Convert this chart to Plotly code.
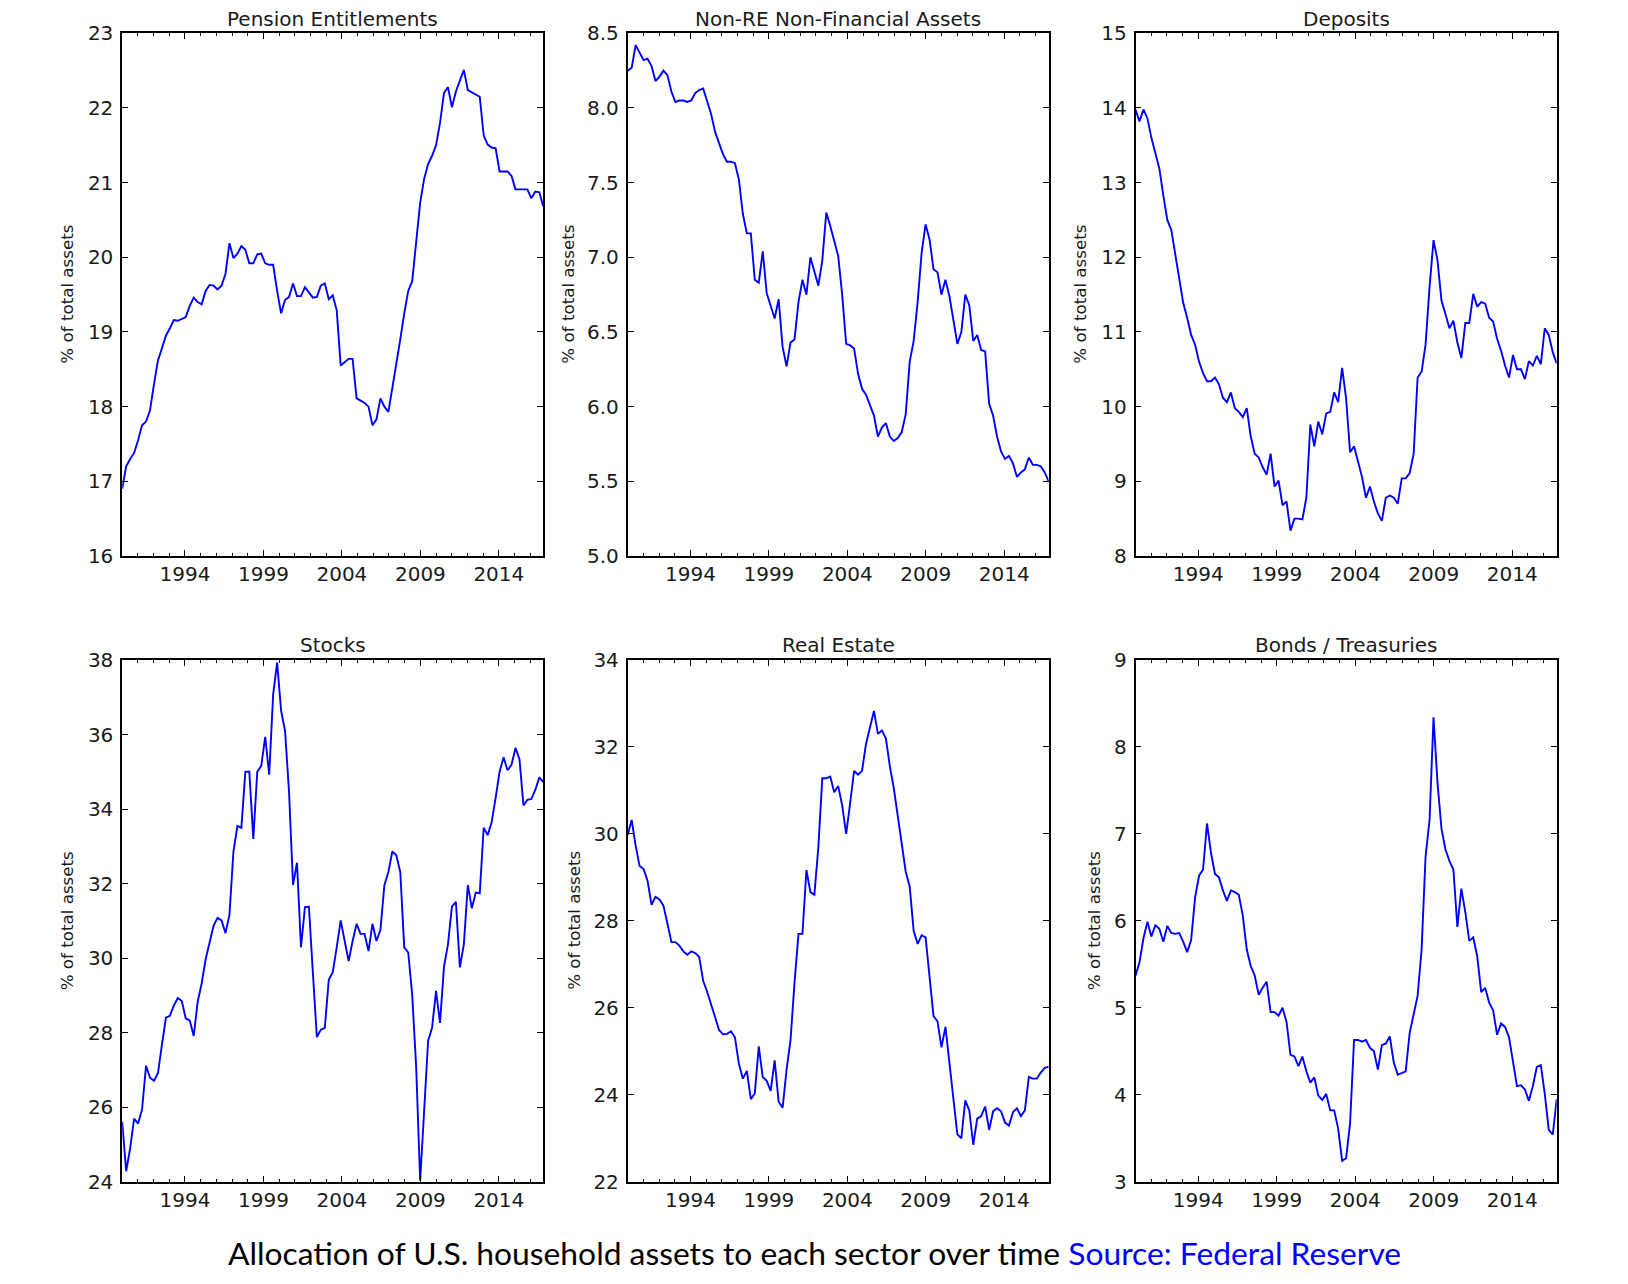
import pandas as pd
import plotly.graph_objects as go

# ---------------- data ----------------
start_date = "1990-01-01"
end_date = "2016-11-01"

titles = ["Pension Entitlements", "Non-RE Non-Financial Assets", "Deposits",
          "Stocks", "Real Estate", "Bonds / Treasuries"]

pension = [16.9, 17.2, 17.3, 17.38, 17.55, 17.75, 17.8, 17.95,
           18.3, 18.62, 18.78, 18.95, 19.05, 19.16, 19.15, 19.17,
           19.2, 19.35, 19.46, 19.4, 19.37, 19.55, 19.63, 19.62,
           19.57, 19.62, 19.78, 20.19, 19.99, 20.05, 20.15, 20.1,
           19.92, 19.92, 20.04, 20.05, 19.92, 19.9, 19.9, 19.55,
           19.25, 19.43, 19.47, 19.65, 19.48, 19.48, 19.6, 19.53,
           19.46, 19.47, 19.62, 19.65, 19.44, 19.49, 19.29,
           18.55, 18.6, 18.64, 18.64, 18.11, 18.08, 18.05, 18.0,
           17.75, 17.83, 18.11, 18.0, 17.93, 18.25, 18.55, 18.9,
           19.25, 19.55, 19.68, 20.2, 20.73, 21.05, 21.25, 21.36,
           21.5, 21.8, 22.2, 22.28, 22.01, 22.22, 22.38, 22.51,
           22.24, 22.21, 22.19, 22.15, 21.63, 21.51, 21.47, 21.46,
           21.15, 21.15, 21.15, 21.09, 20.91, 20.91, 20.91, 20.91,
           20.79, 20.88, 20.87, 20.68]

non_re = [8.25, 8.27, 8.42, 8.37, 8.32, 8.33, 8.28, 8.18,
          8.21, 8.25, 8.22, 8.11, 8.04, 8.05, 8.05, 8.04,
          8.05, 8.1, 8.12, 8.13, 8.04, 7.96, 7.84, 7.76,
          7.69, 7.64, 7.64, 7.63, 7.52, 7.29, 7.16, 7.16,
          6.85, 6.83, 7.04, 6.76, 6.67, 6.59, 6.72, 6.4,
          6.27, 6.43, 6.45, 6.7, 6.85, 6.75, 7.0, 6.9,
          6.81, 6.98, 7.3, 7.21, 7.11, 7.01, 6.75,
          6.42, 6.41, 6.39, 6.22, 6.12, 6.08, 6.01, 5.94,
          5.8, 5.86, 5.89, 5.8, 5.77, 5.79, 5.83, 5.95,
          6.3, 6.44, 6.7, 7.03, 7.22, 7.12, 6.92, 6.9,
          6.75, 6.85, 6.74, 6.58, 6.42, 6.5, 6.75, 6.68,
          6.44, 6.48, 6.38, 6.37, 6.02, 5.94, 5.8, 5.7,
          5.65, 5.67, 5.62, 5.53, 5.56, 5.58, 5.66, 5.61,
          5.61, 5.6, 5.56, 5.5]

deposits = [13.98, 13.82, 13.98, 13.86, 13.6, 13.4, 13.19, 12.83,
            12.5, 12.37, 12.06, 11.7, 11.39, 11.19, 10.96, 10.83,
            10.6, 10.45, 10.34, 10.34, 10.39, 10.3, 10.12, 10.06,
            10.19, 9.98, 9.93, 9.86, 9.98, 9.6, 9.37, 9.32,
            9.19, 9.09, 9.37, 8.93, 9.01, 8.68, 8.73, 8.34,
            8.5, 8.5, 8.49, 8.78, 9.76, 9.47, 9.8, 9.63,
            9.91, 9.93, 10.19, 10.06, 10.52, 10.11, 9.39,
            9.47, 9.27, 9.06, 8.78, 8.93, 8.73, 8.57, 8.47,
            8.78, 8.81, 8.78, 8.7, 9.04, 9.04, 9.11, 9.37,
            10.39, 10.47, 10.83, 11.6, 12.23, 11.96, 11.42, 11.24,
            11.05, 11.15, 10.86, 10.65, 11.12, 11.12, 11.51, 11.34,
            11.4, 11.38, 11.19, 11.14, 10.91, 10.75, 10.55, 10.39,
            10.69, 10.5, 10.5, 10.37, 10.61, 10.55, 10.68, 10.57,
            11.05, 10.96, 10.73, 10.58]

stocks = [25.61, 24.28, 24.9, 25.69, 25.56, 25.94, 27.11, 26.79,
          26.71, 26.91, 27.68, 28.4, 28.45, 28.73, 28.93, 28.85,
          28.38, 28.33, 27.91, 28.83, 29.32, 29.97, 30.42, 30.87,
          31.08, 31.01, 30.67, 31.16, 32.86, 33.55, 33.5, 35.0,
          35.0, 33.2, 35.0, 35.16, 35.94, 34.92, 37.08, 37.93,
          36.64, 36.09, 34.45, 31.96, 32.56, 30.29, 31.37, 31.38,
          29.6, 27.88, 28.08, 28.13, 29.42, 29.62, 30.29, 31.01,
          30.46, 29.92, 30.46, 30.92, 30.65, 30.65, 30.19, 30.92,
          30.46, 30.76, 31.96, 32.31, 32.86, 32.76, 32.31, 30.29,
          30.15, 29.02, 27.08, 24.02, 25.89, 27.78, 28.13, 29.12,
          28.26, 29.77, 30.37, 31.38, 31.51, 29.75, 30.37, 31.96,
          31.34, 31.76, 31.74, 33.5, 33.3, 33.65, 34.3, 35.0,
          35.39, 35.04, 35.19, 35.64, 35.34, 34.1, 34.25, 34.27,
          34.52, 34.85, 34.72]

real_estate = [29.98, 30.32, 29.73, 29.26, 29.19, 28.92, 28.37, 28.55,
               28.49, 28.35, 27.94, 27.51, 27.51, 27.43, 27.3, 27.22,
               27.3, 27.26, 27.17, 26.62, 26.37, 26.07, 25.77, 25.49,
               25.39, 25.4, 25.46, 25.32, 24.71, 24.37, 24.55, 23.9,
               24.03, 25.11, 24.41, 24.32, 24.09, 24.79, 23.84, 23.7,
               24.58, 25.26, 26.58, 27.7, 27.7, 29.17, 28.66, 28.6,
               29.69, 31.28, 31.28, 31.32, 30.96, 31.1, 30.66, 30.0,
               30.7, 31.45, 31.36, 31.45, 32.07, 32.49, 32.83, 32.3,
               32.38, 32.2, 31.56, 31.05, 30.41, 29.73, 29.13, 28.79,
               27.77, 27.47, 27.67, 27.62, 26.75, 25.81, 25.69, 25.09,
               25.56, 24.75, 23.92, 23.09, 23.0, 23.87, 23.64, 22.85,
               23.45, 23.51, 23.73, 23.19, 23.62, 23.69, 23.62, 23.36,
               23.29, 23.6, 23.69, 23.51, 23.64, 24.41, 24.37, 24.37,
               24.51, 24.62, 24.64]

bonds = [5.37, 5.52, 5.8, 5.99, 5.82, 5.95, 5.91, 5.76, 5.94, 5.86,
         5.85, 5.86, 5.76, 5.64, 5.78, 6.27, 6.52, 6.59, 7.12, 6.78,
         6.54, 6.5, 6.35, 6.23, 6.35, 6.33, 6.3, 6.06, 5.67, 5.48,
         5.37, 5.15, 5.23, 5.3, 4.95, 4.95, 4.91, 5.0, 4.84, 4.46,
         4.44, 4.33, 4.44, 4.27, 4.14, 4.2, 3.99, 3.94, 4.01, 3.82,
         3.82, 3.61, 3.24, 3.27, 3.67, 4.63, 4.63, 4.61, 4.63, 4.54,
         4.5, 4.29, 4.57, 4.59, 4.67, 4.37, 4.23, 4.25, 4.27, 4.71,
         4.91, 5.14, 5.67, 6.74, 7.16, 8.34, 7.59, 7.06, 6.82, 6.69,
         6.59, 5.93, 6.37, 6.1, 5.77, 5.81, 5.59, 5.18, 5.23, 5.06,
         4.97, 4.69, 4.82, 4.78, 4.66, 4.4, 4.1, 4.11, 4.06, 3.93,
         4.1, 4.32, 4.34, 4.01, 3.6, 3.54, 3.95]

series = [pension, non_re, deposits, stocks, real_estate, bonds]

y_ranges = [[16, 23], [5.0, 8.5], [8, 15], [24, 38], [22, 34], [3, 9]]
y_ticks = [[16, 17, 18, 19, 20, 21, 22, 23],
           [5.0, 5.5, 6.0, 6.5, 7.0, 7.5, 8.0, 8.5],
           [8, 9, 10, 11, 12, 13, 14, 15],
           [24, 26, 28, 30, 32, 34, 36, 38],
           [22, 24, 26, 28, 30, 32, 34],
           [3, 4, 5, 6, 7, 8, 9]]
y_tick_fmt = ["d", ".1f", "d", "d", "d", "d"]
x_tick_years = ["1994", "1999", "2004", "2009", "2014"]
y_label = "% of total assets"
caption_main = "Allocation of U.S. household assets to each sector over time"
caption_source = "Source: Federal Reserve"

# ---------------- layout geometry (pixels of the 1628x1284 page) ----------------
W, H = 1628, 1284
col_px = [(122.2, 543.3), (627.7, 1048.7), (1135.5, 1556.7)]
row_px = [(33.3, 556.0), (660.0, 1181.7)]
ylabel_x_px = [67, 568, 1080, 66.5, 574, 1093.4]
title_y_px = [18.8, 645.0]
caption_y_px = 1253

TEXT = "#1a1a1a"
FONT = "DejaVu Sans"

fig = go.Figure()
annotations = []

for i, vals in enumerate(series):
    r, c = divmod(i, 3)
    n = "" if i == 0 else str(i + 1)
    x0, x1 = col_px[c]
    yt, yb = row_px[r]
    xdom = [x0 / W, x1 / W]
    ydom = [1 - yb / H, 1 - yt / H]
    dates = pd.date_range(start_date, end_date, periods=len(vals))
    fig.add_trace(go.Scatter(
        x=dates, y=vals, mode="lines",
        line=dict(color="#0000ff", width=1.9),
        xaxis="x" + n, yaxis="y" + n, showlegend=False, hoverinfo="skip"))
    fig.layout["xaxis" + n] = dict(
        domain=xdom, anchor="y" + n, type="date", automargin=False,
        range=[start_date, end_date],
        tickvals=[y + "-01-01" for y in x_tick_years], ticktext=x_tick_years,
        ticks="inside", ticklen=6, tickwidth=1.3, tickcolor="black",
        minor=dict(dtick="M12", tick0="1990-01-01", ticks="inside",
                   ticklen=3, tickwidth=1.2, tickcolor="black", showgrid=False),
        showline=True, linecolor="black", linewidth=1.7, mirror="ticks",
        showgrid=False, zeroline=False, fixedrange=True,
        tickfont=dict(family=FONT, size=20, color=TEXT),
        ticklabelstandoff=-1,
    )
    fig.layout["yaxis" + n] = dict(
        domain=ydom, anchor="x" + n, range=y_ranges[i], automargin=False,
        tickvals=y_ticks[i], tickformat=y_tick_fmt[i],
        ticks="inside", ticklen=6, tickwidth=1.3, tickcolor="black",
        showline=True, linecolor="black", linewidth=1.7, mirror="ticks",
        showgrid=False, zeroline=False, fixedrange=True,
        tickfont=dict(family=FONT, size=20, color=TEXT),
        ticklabelstandoff=3,
    )
    annotations.append(dict(
        text=titles[i], xref="paper", yref="paper",
        x=(xdom[0] + xdom[1]) / 2, y=1 - title_y_px[r] / H,
        xanchor="center", yanchor="middle", showarrow=False,
        font=dict(family=FONT, size=20, color=TEXT)))
    annotations.append(dict(
        text=y_label, xref="paper", yref="paper",
        x=ylabel_x_px[i] / W, y=(ydom[0] + ydom[1]) / 2,
        xanchor="center", yanchor="middle", textangle=-90, showarrow=False,
        font=dict(family=FONT, size=16.7, color=TEXT)))

annotations.append(dict(
    text=caption_main + " <span style='color:#0000ff'>" + caption_source + "</span>",
    xref="paper", yref="paper", x=0.5, y=1 - caption_y_px / H,
    xanchor="center", yanchor="middle", showarrow=False,
    font=dict(family="Lato", size=31.8, color="black")))

fig.update_layout(
    template="none",
    width=W, height=H, margin=dict(l=0, r=0, t=0, b=0, autoexpand=False),
    paper_bgcolor="white", plot_bgcolor="white",
    annotations=annotations, showlegend=False)

fig.write_html("out.html", config={"displayModeBar": False},
               post_script="document.body.style.margin='0';document.body.style.overflow='hidden';")
